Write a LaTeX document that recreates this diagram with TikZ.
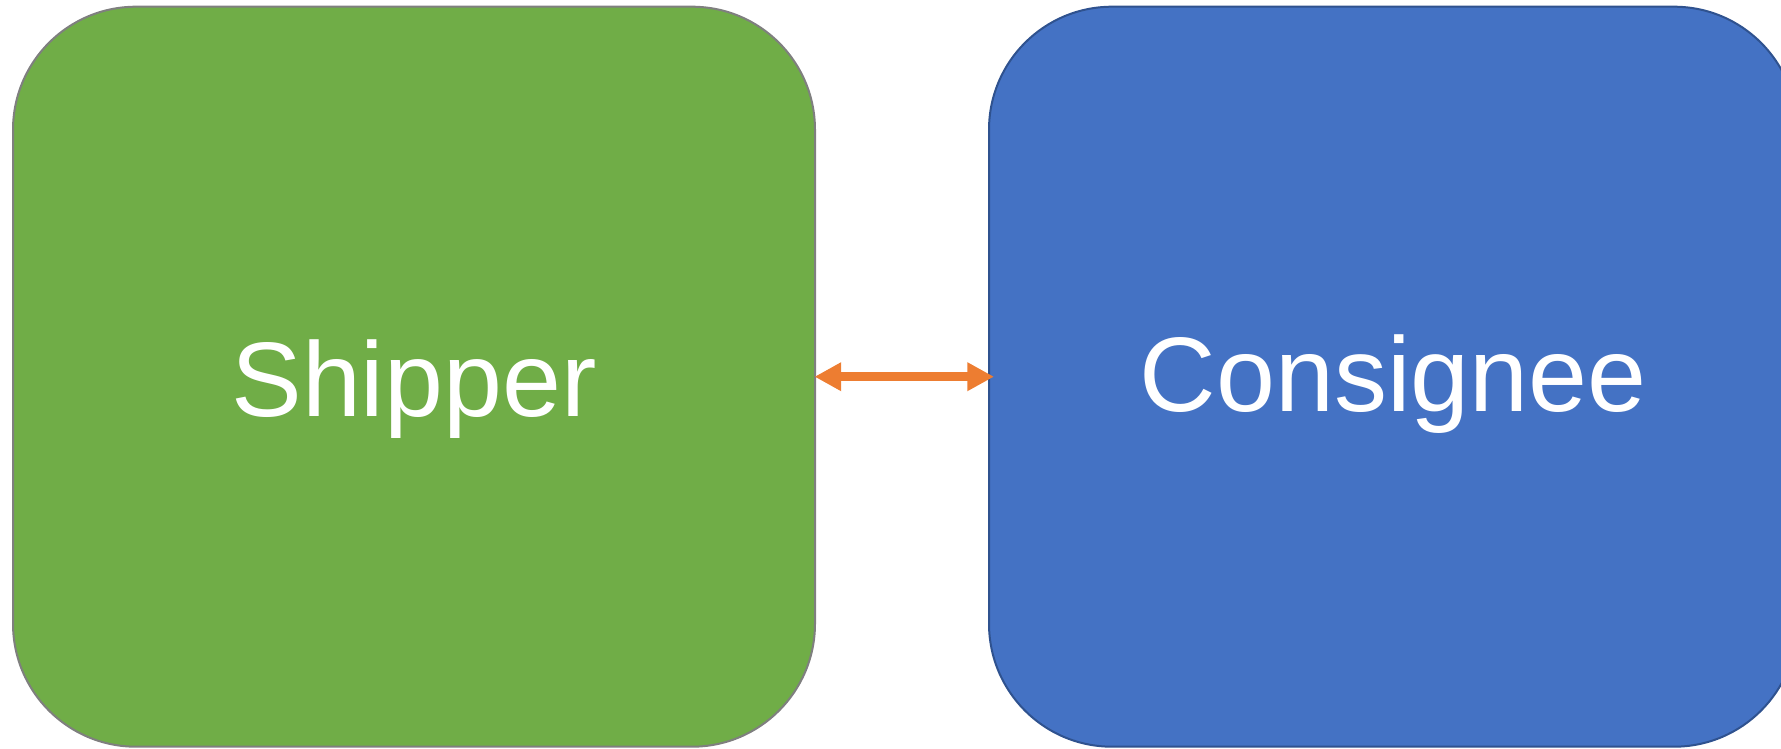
\documentclass[tikz,border=0pt]{standalone}
\usepackage{fontspec}
\setmainfont{Liberation Sans}
\usetikzlibrary{arrows.meta}
\definecolor{partygreen}{HTML}{70AD47}
\definecolor{partyblue}{HTML}{4472C4}
\definecolor{partyblueedge}{HTML}{2F528F}
\definecolor{greenedge}{HTML}{7F7F7F}
\definecolor{linkorange}{HTML}{ED7D31}
\tikzset{
  party/.style={rounded corners=123pt, line width=2pt, text=white,
    inner sep=0pt, text depth=0pt,
    font=\fontsize{106}{120}\selectfont},
  link/.style={linkorange, line width=9.3pt,
    {Triangle[length=26.7pt,width=27pt]}-{Triangle[length=26.7pt,width=27pt]}}
}
\begin{document}
\begin{tikzpicture}[x=1pt,y=-1pt]
  \useasboundingbox (0,0) rectangle (1781,748);
  \clip (0,0) rectangle (1781,748);
  \node[party, fill=partygreen, draw=greenedge,
        minimum width=802pt, minimum height=740pt, text height=79pt]
        (ship) at (414,376.7) {Shipper};
  \node[party, fill=partyblue, draw=partyblueedge,
        minimum width=808pt, minimum height=740pt, text height=69pt]
        (cons) at (1393,376.7) {Consignee};
  \draw[link, shorten <=-1.5pt, shorten >=-6pt] (ship.east) -- (cons.west);
\end{tikzpicture}
\end{document}
